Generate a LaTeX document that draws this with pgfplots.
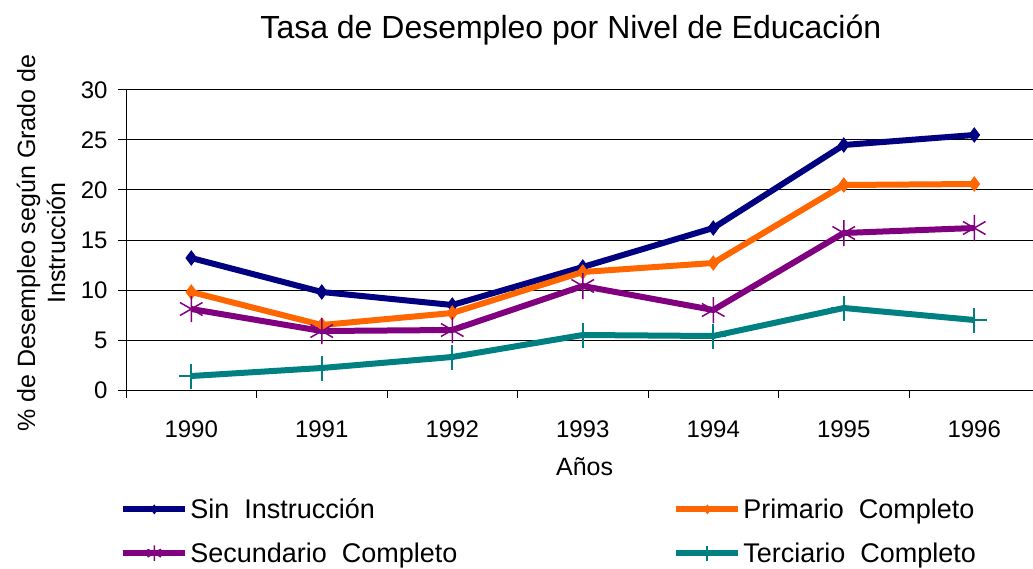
\documentclass[border=0pt]{standalone}
\usepackage{pgfplots}
\pgfplotsset{compat=1.18}
\usepackage{fontspec}
\setmainfont{Liberation Sans}
\definecolor{cNavy}{HTML}{000080}
\definecolor{cOrange}{HTML}{FF6600}
\definecolor{cPurple}{HTML}{800080}
\definecolor{cTeal}{HTML}{008080}
\begin{document}
\begin{tikzpicture}[x=1pt,y=1pt]
\useasboundingbox (0,0) rectangle (1033,568);
\clip (0,0) rectangle (1033,568);
\begin{axis}[
  at={(126pt,178pt)}, anchor=south west,
  scale only axis, width=913.5pt, height=300pt,
  xmin=-0.5, xmax=6.5, ymin=0, ymax=30,
  axis x line*=bottom, axis y line*=left,
  axis line style={-, black, line width=1pt},
  xtick={0,...,6}, xticklabels={1990,1991,1992,1993,1994,1995,1996},
  major x tick style={draw=none},
  minor xtick={-0.5,0.5,...,6.5},
  minor x tick style={black, line width=1pt},
  minor tick length=8pt,
  ytick={0,5,...,30},
  major tick length=8pt,
  tick align=outside,
  y tick style={black, line width=1pt},
  ymajorgrids, major grid style={black, line width=1pt},
  /pgf/number format/assume math mode=true,
  tick label style={font=\fontsize{24}{28}\selectfont},
  xticklabel style={yshift=-19pt},
  yticklabel style={xshift=-7pt},
  title={Tasa de Desempleo por Nivel de Educación},
  title style={font=\fontsize{32}{38}\selectfont, at={(rel axis cs:0.487,1.18)}, anchor=center},
  xlabel={Años},
  xlabel style={font=\fontsize{25}{30}\selectfont, at={(rel axis cs:0.502,-0.257)}, anchor=center},
  ylabel={\% de Desempleo según Grado de\\Instrucción},
  ylabel style={font=\fontsize{25}{30}\selectfont, align=center, at={(rel axis cs:-0.093,0.49)}, anchor=center, rotate=0},
  legend columns=2,
  legend cell align=left,
  legend style={draw=none, fill=none, at={(rel axis cs:-0.0065,-0.355)}, anchor=north west,
    font=\fontsize{27}{31}\selectfont, row sep=18.5pt, inner sep=0pt,
    /tikz/every even column/.append style={column sep=214pt}},
  legend image code/.code={\draw[every mark/.append style={scale=0.6}, mark repeat=2,mark phase=2] plot coordinates {(0pt,0pt) (31pt,0pt) (62pt,0pt)};},
  every axis plot/.append style={line width=6pt},
]
\addplot[cNavy, mark=diamond*, mark size=7pt, mark options={line width=1pt}] coordinates {(0,13.2) (1,9.8) (2,8.5) (3,12.3) (4,16.2) (5,24.5) (6,25.5)};
\addlegendentry{Sin\ \ Instrucción}
\addplot[cOrange, mark=diamond*, mark size=7pt, mark options={line width=1pt}] coordinates {(0,9.8) (1,6.5) (2,7.7) (3,11.8) (4,12.7) (5,20.5) (6,20.6)};
\addlegendentry{Primario\ \ Completo}
\addplot[cPurple, mark=asterisk, mark size=13pt, mark options={line width=1.5pt}] coordinates {(0,8.1) (1,5.9) (2,6.0) (3,10.4) (4,8.0) (5,15.7) (6,16.2)};
\addlegendentry{Secundario\ \ Completo}
\addplot[cTeal, mark=+, mark size=12.5pt, mark options={line width=2pt}] coordinates {(0,1.4) (1,2.2) (2,3.3) (3,5.5) (4,5.4) (5,8.2) (6,7.0)};
\addlegendentry{Terciario\ \ Completo}
\end{axis}
\end{tikzpicture}
\end{document}
